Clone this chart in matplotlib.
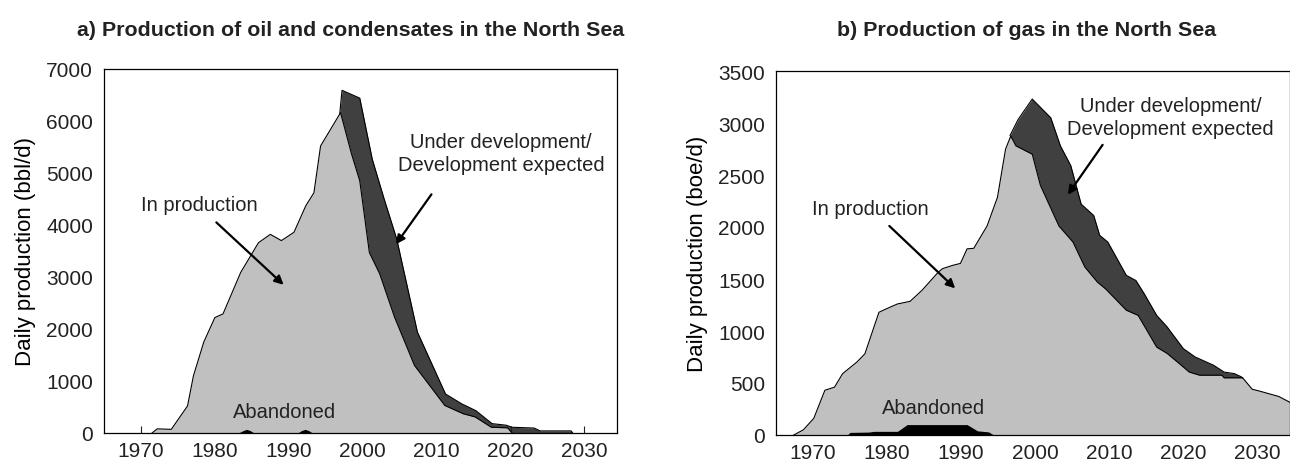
import matplotlib; matplotlib.use('Agg')
import matplotlib.pyplot as plt

plt.rcParams.update({'font.family': ['Liberation Sans', 'DejaVu Sans'], 'font.size': 15,
                     'text.color': '#222222', 'xtick.color': '#222222', 'ytick.color': '#222222'})

# a) oil and condensates (bbl/d)
oil_prod_yr = [1971.5, 1972.2, 1974.1, 1976.3, 1977.1, 1978.5, 1980.0, 1981.1, 1983.5, 1985.9,
               1987.5, 1989.0, 1990.7, 1992.3, 1993.4, 1994.3, 1997.0, 1998.5, 1999.6, 2000.9,
               2002.3, 2004.3, 2007.0, 2011.1, 2013.6, 2015.2, 2017.4, 2019.6, 2020.2]
oil_prod = [0, 80, 70, 520, 1100, 1750, 2220, 2290, 3090, 3660,
            3820, 3700, 3860, 4370, 4620, 5520, 6160, 5360, 4850, 3470,
            3060, 2230, 1300, 530, 370, 310, 110, 100, 0]
oil_dev_yr = [1996.9, 1997.2, 1999.6, 2001.3, 2002.9, 2004.6, 2007.4, 2011.2, 2013.4, 2015.3,
              2017.5, 2019.4, 2020.2, 2023.2, 2024.0, 2028.2, 2028.4]
oil_dev = [6150, 6590, 6440, 5260, 4500, 3730, 1940, 750, 560, 430,
           180, 150, 110, 95, 40, 40, 0]
oil_ab_yr = [1983.2, 1983.8, 1984.3, 1984.8, 1985.3, 1991.2, 1991.7, 1992.2, 1992.7, 1993.2]
oil_ab = [0, 45, 70, 45, 0, 0, 45, 70, 45, 0]

# b) gas (boe/d)
gas_prod_yr = [1967.4, 1968.7, 1970.1, 1971.6, 1972.9, 1974.0, 1975.9, 1977.0, 1978.9, 1979.8,
               1981.4, 1983.1, 1984.7, 1986.9, 1987.5, 1988.8, 1989.9, 1990.8, 1991.7, 1993.5,
               1994.9, 1996.0, 1996.7, 1997.4, 1999.6, 2000.7, 2003.2, 2005.1, 2006.7, 2008.4,
               2009.5, 2012.3, 2013.9, 2016.4, 2017.8, 2019.4, 2020.8, 2022.2, 2025.2, 2025.5,
               2028.0, 2029.3, 2030.4, 2032.9, 2034.5]
gas_prod = [0, 50, 160, 430, 460, 590, 700, 780, 1180, 1210,
            1260, 1285, 1390, 1565, 1600, 1630, 1650, 1790, 1795, 2010,
            2285, 2750, 2875, 2780, 2700, 2400, 2010, 1855, 1615, 1470,
            1405, 1200, 1150, 845, 785, 690, 605, 575, 575, 550,
            550, 440, 420, 370, 310]
gas_dev_yr = [1996.6, 1997.7, 1999.6, 2002.1, 2003.4, 2004.8, 2006.2, 2007.9, 2008.7, 2009.8,
              2012.3, 2013.6, 2014.7, 2016.4, 2017.8, 2020.0, 2021.6, 2023.0, 2024.1, 2025.5,
              2026.9, 2027.8, 2028.0]
gas_dev = [2880, 3035, 3230, 3050, 2780, 2590, 2220, 2110, 1920, 1855,
           1535, 1485, 1360, 1150, 1040, 830, 750, 705, 670, 605,
           590, 560, 550]
gas_ab_yr = [1974.6, 1975.0, 1977.5, 1978.2, 1981.4, 1982.7, 1990.8, 1992.2, 1993.7, 1994.4]
gas_ab = [0, 25, 28, 35, 35, 100, 100, 40, 30, 0]

LIGHT, DARK = '#c0c0c0', '#404040'

fig = plt.figure(figsize=(12.9, 4.64), dpi=100)
axa = fig.add_axes([104/1290, 30/464, 513/1290, 364/464])
axb = fig.add_axes([776/1290, 28/464, 514/1290, 364/464])


def draw(ax, dyr, dv, pyr, pv, ayr, av, ymax, ystep):
    ax.fill_between(dyr, 0, dv, color=DARK, lw=0, zorder=1)
    ax.plot(dyr, dv, color='k', lw=0.8, zorder=3)
    ax.fill_between(pyr, 0, pv, color=LIGHT, lw=0, zorder=2)
    ax.plot(pyr, pv, color='k', lw=0.8, zorder=3)
    ax.fill_between(ayr, 0, av, color='k', lw=0, zorder=4)
    ax.set_xlim(1965, 2034.4)
    ax.set_ylim(0, ymax)
    ax.set_xticks(range(1970, 2031, 10))
    ax.set_yticks(range(0, ymax + 1, ystep))
    ax.tick_params(axis='x', direction='in', length=5, width=0.8, pad=6)
    ax.tick_params(axis='y', length=0, pad=8)
    for s in ax.spines.values():
        s.set_linewidth(0.9)


def arrow(ax, xy, xytext):
    ax.annotate('', xy=xy, xytext=xytext,
                arrowprops=dict(arrowstyle='-|>', color='k', lw=1.6, mutation_scale=13, shrinkA=0, shrinkB=0),
                zorder=6)


ANN = 14.5

draw(axa, oil_dev_yr, oil_dev, oil_prod_yr, oil_prod, oil_ab_yr, oil_ab, 7000, 1000)
axa.set_ylabel('Daily production (bbl/d)', labelpad=7, fontsize=16)
axa.text(1977.9, 4400, 'In production', ha='center', va='center', fontsize=ANN, zorder=6)
arrow(axa, (1989.3, 2850), (1980.2, 4050))
axa.text(2018.7, 5380, 'Under development/\nDevelopment expected', ha='center', va='center',
         linespacing=1.3, fontsize=ANN, zorder=6)
arrow(axa, (2004.5, 3630), (2009.3, 4590))
axa.text(1989.4, 410, 'Abandoned', ha='center', va='center', fontsize=ANN, zorder=6)

draw(axb, gas_dev_yr, gas_dev, gas_prod_yr, gas_prod, gas_ab_yr, gas_ab, 3500, 500)
axb.set_ylabel('Daily production (boe/d)', labelpad=7, fontsize=16)
axb.text(1977.8, 2180, 'In production', ha='center', va='center', fontsize=ANN, zorder=6)
arrow(axb, (1989.2, 1410), (1980.3, 2010))
axb.text(2018.3, 3060, 'Under development/\nDevelopment expected', ha='center', va='center',
         linespacing=1.3, fontsize=ANN, zorder=6)
arrow(axb, (2004.4, 2310), (2009.1, 2790))
axb.text(1986.3, 265, 'Abandoned', ha='center', va='center', fontsize=ANN, zorder=6)

fig.text(351/1290, 1 - 31/464, 'a) Production of oil and condensates in the North Sea',
         ha='center', va='center', fontsize=15.4, fontweight='bold')
fig.text(1027/1290, 1 - 31/464, 'b) Production of gas in the North Sea',
         ha='center', va='center', fontsize=15.4, fontweight='bold')

fig.savefig('out.png', dpi=100)
